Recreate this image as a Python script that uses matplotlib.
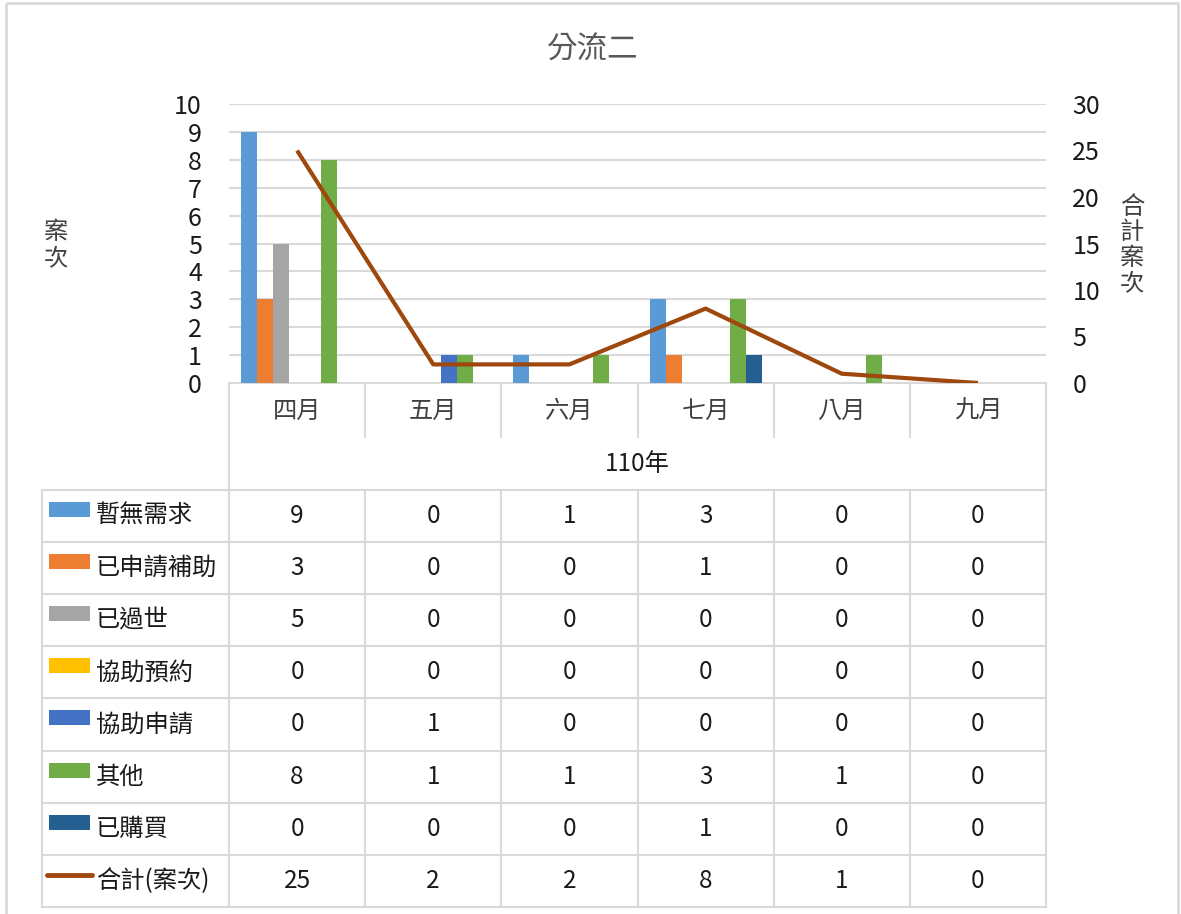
import matplotlib
matplotlib.use("Agg")
import matplotlib.pyplot as plt
import numpy as np
from matplotlib.lines import Line2D
from matplotlib.patches import Rectangle

plt.rcParams['font.family'] = ['Noto Sans CJK TC', 'DejaVu Sans']

title = "分流二"
months = ["四月", "五月", "六月", "七月", "八月", "九月"]
year_label = "110年"
series_names = ["暫無需求", "已申請補助", "已過世", "協助預約", "協助申請", "其他", "已購買"]
s_none = [9, 0, 1, 3, 0, 0]
s_applied = [3, 0, 0, 1, 0, 0]
s_passed = [5, 0, 0, 0, 0, 0]
s_booking = [0, 0, 0, 0, 0, 0]
s_assist = [0, 1, 0, 0, 0, 0]
s_other = [8, 1, 1, 3, 1, 0]
s_bought = [0, 0, 0, 1, 0, 0]
total_name = "合計(案次)"
total = [25, 2, 2, 8, 1, 0]
left_label = "案次"
right_label = "合計案次"

series = [s_none, s_applied, s_passed, s_booking, s_assist, s_other, s_bought]
colors = ["#5B9BD5", "#ED7D31", "#A5A5A5", "#FFC000", "#4472C4", "#70AD47", "#255E91"]
line_color = "#9E480E"
grid_c = "#D9D9D9"
txt_c = "#404040"
num_c = "#1a1a1a"
fs = 17.5

W, H = 1181, 914
fig = plt.figure(figsize=(W / 100, H / 100), dpi=100)

# pixel layout
px_l, px_r, px_top, px_bot = 229, 1046, 104, 383
ax = fig.add_axes([px_l / W, 1 - px_bot / H, (px_r - px_l) / W, (px_bot - px_top) / H])
x = np.arange(len(months))
bw = 16 / 136.2
for i, (vals, c) in enumerate(zip(series, colors)):
    ax.bar(x + (i - 3) * bw, vals, width=bw, color=c, zorder=2, linewidth=0)
ax.set_xlim(-0.5, len(months) - 0.5)
ax.set_ylim(0, 10)
ax.set_yticks(range(0, 11))
ax.yaxis.grid(True, color=grid_c, linewidth=1.5, zorder=0)
ax.set_axisbelow(True)
for s in ax.spines.values():
    s.set_visible(False)
ax.set_xticks([])
ax.tick_params(axis='y', length=0, pad=19.5, labelsize=18, labelcolor=num_c)

ax2 = ax.twinx()
ax2.plot(x, total, color=line_color, linewidth=3, zorder=3, solid_capstyle='butt')
ax2.set_ylim(0, 30)
ax2.set_yticks(range(0, 31, 5))
for s in ax2.spines.values():
    s.set_visible(False)
ax2.tick_params(axis='y', length=0, pad=19, labelsize=18, labelcolor=num_c)

# overlay axes in pixel coordinates for table, labels, border
ov = fig.add_axes([0, 0, 1, 1], zorder=-1)
ov.set_xlim(0, W)
ov.set_ylim(H, 0)
ov.axis('off')

ov.add_patch(Rectangle((6, 3), 1172, 940, fill=False, edgecolor=grid_c, linewidth=2))
ov.text(593, 50, title, ha='center', va='center', fontsize=22, color="#595959")
ov.text(56, 245, "\n".join(left_label), ha='center', va='center', fontsize=17.5,
        color=txt_c, linespacing=0.98)
ov.text(1132, 245, "\n".join(right_label), ha='center', va='center', fontsize=17.5,
        color=txt_c, linespacing=0.98)

cell_w = (px_r - px_l) / len(months)
col_edges = [px_l + k * cell_w for k in range(len(months) + 1)]
lw = 1.5
# category row
ov.add_line(Line2D([px_l, px_r], [px_bot, px_bot], color=grid_c, lw=lw))
for e in col_edges[1:-1]:
    ov.add_line(Line2D([e, e], [px_bot, 437], color=grid_c, lw=lw))
for k, m in enumerate(months):
    ov.text((col_edges[k] + col_edges[k + 1]) / 2, 411, m, ha='center', va='center',
            fontsize=fs, color=txt_c)
ov.text((px_l + px_r) / 2, 464, year_label, ha='center', va='center', fontsize=fs,
        color=num_c)

# data table
t_left = 42
row_tops = [490 + 52.1 * k for k in range(9)]
for yv in row_tops:
    ov.add_line(Line2D([t_left, px_r], [yv, yv], color=grid_c, lw=lw))
ov.add_line(Line2D([t_left, t_left], [row_tops[0], row_tops[-1]], color=grid_c, lw=lw))
ov.add_line(Line2D([px_l, px_l], [px_bot, row_tops[-1]], color=grid_c, lw=lw))
ov.add_line(Line2D([px_r, px_r], [px_bot, row_tops[-1]], color=grid_c, lw=lw))
for e in col_edges[1:-1]:
    ov.add_line(Line2D([e, e], [row_tops[0], row_tops[-1]], color=grid_c, lw=lw))

rows = list(zip(series_names, series, colors)) + [(total_name, total, None)]
for r, (name, vals, c) in enumerate(rows):
    yc = (row_tops[r] + row_tops[r + 1]) / 2
    if c is not None:
        ov.add_patch(Rectangle((49, yc - 14), 41, 15, color=c, linewidth=0))
    else:
        ov.add_line(Line2D([47, 92], [yc - 6, yc - 6], color=line_color, lw=3.5,
                           solid_capstyle='round'))
    ov.text(96, yc, name, ha='left', va='center', fontsize=fs, color=num_c)
    for k, v in enumerate(vals):
        ov.text((col_edges[k] + col_edges[k + 1]) / 2, yc, str(v), ha='center',
                va='center', fontsize=fs, color=num_c)

fig.savefig("out.png", dpi=100)
